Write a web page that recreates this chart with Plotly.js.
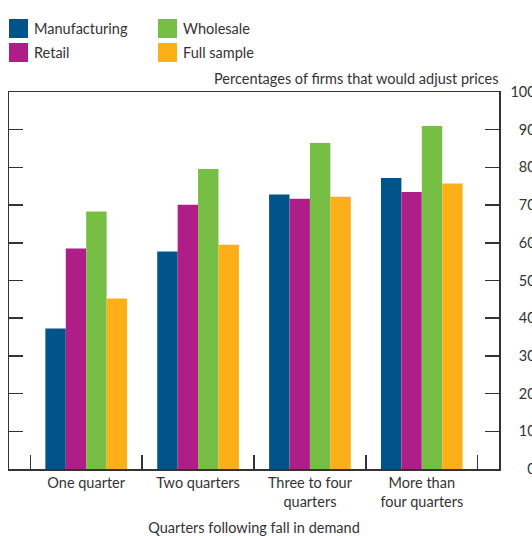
<!DOCTYPE html>
<html>
<head>
<meta charset="utf-8">
<script src="https://cdn.plot.ly/plotly-3.0.1.min.js"></script>
<style>
  html, body { margin: 0; padding: 0; background: #fff; overflow: hidden; }
  #chart { width: 532px; height: 536px; }
</style>
</head>
<body>
<div id="chart"></div>
<script>
// Share of firms that would adjust prices, by quarters after a fall in demand
const categories = ['One quarter', 'Two quarters', 'Three to four<br>quarters', 'More than<br>four quarters'];
const seriesNames = ['Manufacturing', 'Retail', 'Wholesale', 'Full sample'];
const manufacturing = [37.3, 57.7, 72.8, 77.2];
const retail = [58.5, 70.1, 71.7, 73.5];
const wholesale = [68.3, 79.6, 86.5, 91.0];
const fullSample = [45.2, 59.5, 72.2, 75.7];
const yTickValues = [0, 10, 20, 30, 40, 50, 60, 70, 80, 90, 100];

const colors = ['#00548A', '#AE1E86', '#77BE44', '#FCAF17'];
const seriesValues = [manufacturing, retail, wholesale, fullSample];

const W = 532, H = 536;
const M = { l: 9, r: 33, t: 92, b: 67 };
const plotW = W - M.l - M.r;
const plotH = H - M.t - M.b;
const px = x => (x - M.l) / plotW;      // pixel -> paper x
const py = y => (H - M.b - y) / plotH;  // pixel -> paper y

const ink = '#333333';
const fontFamily = 'Lato, "Noto Sans", sans-serif';

const traces = seriesNames.map((name, i) => ({
  type: 'bar',
  name: name,
  x: categories,
  y: seriesValues[i],
  marker: { color: colors[i], line: { width: 0 } },
  hoverinfo: 'x+y+name'
}));

// Right-aligned tick labels: pad with figure spaces so digits line up
const maxLen = Math.max(...yTickValues.map(v => String(v).length));
const yTickText = yTickValues.map(v => '\u2007'.repeat(maxLen - String(v).length) + v);

// Legend: large swatches with labels, two columns of two
const legendPos = [
  { x: 9, y: 19 },   // Manufacturing
  { x: 9, y: 43 },   // Retail
  { x: 158, y: 19 }, // Wholesale
  { x: 158, y: 43 }  // Full sample
];
const shapes = [];
const annotations = [];
seriesNames.forEach((name, s) => {
  const pos = legendPos[s];
  shapes.push({
    type: 'rect', xref: 'paper', yref: 'paper',
    x0: px(pos.x), x1: px(pos.x + 19), y0: py(pos.y), y1: py(pos.y + 19),
    fillcolor: colors[s], line: { width: 0 }
  });
  annotations.push({
    xref: 'paper', yref: 'paper', x: px(pos.x + 23), y: py(pos.y + 9.5),
    xanchor: 'left', yanchor: 'middle', showarrow: false,
    text: name, font: { family: fontFamily, size: 14.5, color: ink }
  });
});

annotations.push({
  xref: 'paper', yref: 'paper', x: 1, y: py(79), xshift: 2,
  xanchor: 'right', yanchor: 'middle', showarrow: false,
  text: 'Percentages of firms that would adjust prices',
  font: { family: fontFamily, size: 14.5, color: ink }
});

const layout = {
  width: W, height: H,
  margin: M,
  paper_bgcolor: '#ffffff', plot_bgcolor: '#ffffff',
  font: { family: fontFamily, size: 14.5, color: ink },
  barmode: 'group',
  bargap: 0.27,
  bargroupgap: 0,
  showlegend: false,
  xaxis: {
    type: 'category',
    range: [-0.69, 3.69],
    tickson: 'boundaries',
    ticks: 'inside', ticklen: 14, tickwidth: 1.5, tickcolor: ink,
    showline: true, linecolor: ink, linewidth: 1.5, mirror: true,
    showgrid: false, zeroline: false,
    tickfont: { family: fontFamily, size: 14.5, color: ink },
    title: {
      text: 'Quarters following fall in demand',
      font: { family: fontFamily, size: 14.5, color: ink },
      standoff: 16
    },
    fixedrange: true
  },
  yaxis: {
    side: 'right',
    range: [0, 100],
    tickvals: yTickValues,
    ticktext: yTickText,
    ticks: 'inside', ticklen: 14, tickwidth: 1.5, tickcolor: ink,
    showline: true, linecolor: ink, linewidth: 1.5, mirror: 'ticks',
    showgrid: false, zeroline: false,
    ticklabelstandoff: 7,
    tickfont: { family: fontFamily, size: 14.5, color: ink },
    fixedrange: true
  },
  shapes: shapes,
  annotations: annotations
};

Plotly.newPlot('chart', traces, layout, { displayModeBar: false, staticPlot: true });
</script>
</body>
</html>
